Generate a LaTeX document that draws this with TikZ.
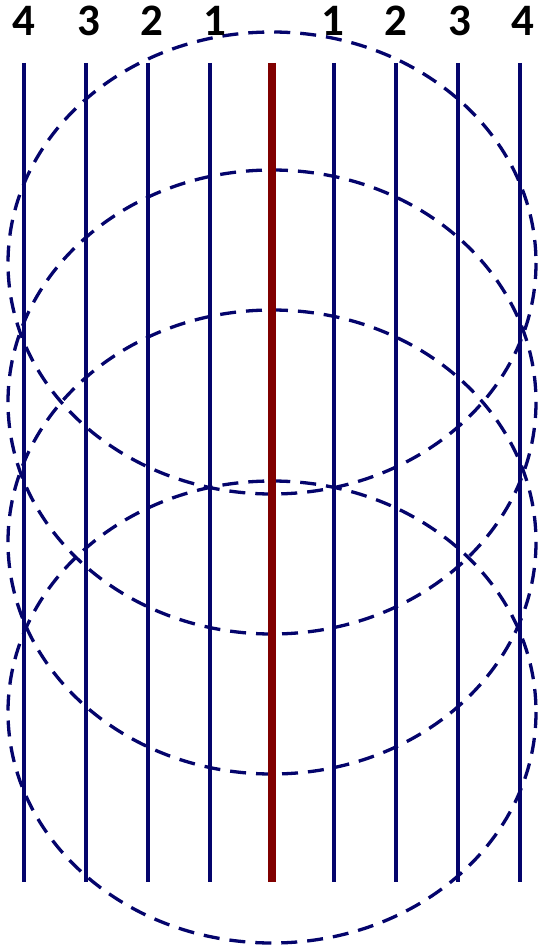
\documentclass[tikz,border=0pt]{standalone}
\usepackage{fontspec}
\setmainfont{Carlito}
\definecolor{navy}{RGB}{4,4,108}
\definecolor{maroon}{RGB}{128,0,0}
\begin{document}
\begin{tikzpicture}[x=1pt,y=-1pt,
  ring/.style={draw=navy,line width=3.3pt,dash pattern=on 16pt off 10pt},
  wire/.style={draw=navy,line width=3.2pt},
  core/.style={draw=maroon,line width=8pt},
  lab/.style={font=\bfseries\fontsize{45}{45}\selectfont,anchor=base,inner sep=0pt}]
\useasboundingbox (0,0) rectangle (538,949);
% dashed ellipses
\draw[ring] (272,263) ellipse [x radius=264, y radius=231];
\draw[ring] (272,402) ellipse [x radius=264, y radius=232];
\draw[ring] (272,542) ellipse [x radius=264, y radius=232];
\draw[ring] (272,712) ellipse [x radius=264, y radius=231];
% vertical lines
\foreach \n/\x in {L4/24,L3/86,L2/148,L1/210,R1/334,R2/396,R3/458,R4/520}{
  \coordinate (\n t) at (\x,63);
  \coordinate (\n b) at (\x,882);
  \draw[wire] (\n t) -- (\n b);
}
\coordinate (Ct) at (272,63);
\coordinate (Cb) at (272,882);
\draw[core] (Ct) -- (Cb);
% labels
\node[lab] (l4) at (24,36) {4};
\node[lab] (l3) at (89,36) {3};
\node[lab] (l2) at (152,36) {2};
\node[lab] (l1) at (215,36) {1};
\node[lab] (r1) at (333,36) {1};
\node[lab] (r2) at (396,36) {2};
\node[lab] (r3) at (460,36) {3};
\node[lab] (r4) at (523,36) {4};
\end{tikzpicture}
\end{document}
